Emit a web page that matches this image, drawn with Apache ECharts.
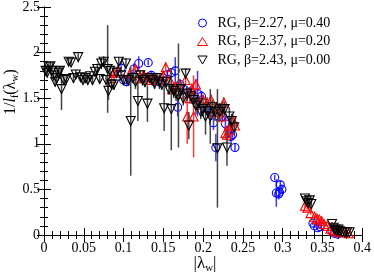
<!DOCTYPE html>
<html><head><meta charset="utf-8">
<script src="https://cdn.jsdelivr.net/npm/echarts@6/dist/echarts.min.js"></script>
<style>html,body{margin:0;padding:0;background:#fff}#c{width:374px;height:273px}</style>
</head><body><div id="c"></div>
<script>
// ---- data ----
const xTicks = [0,0.05,0.1,0.15,0.2,0.25,0.3,0.35,0.4];
const yTicks = [0,0.5,1,1.5,2,2.5];
const seriesNames = ['RG, β=2.27, μ=0.40','RG, β=2.37, μ=0.20','RG, β=2.43, μ=0.00'];

const blueX = [0.097,0.100,0.104,0.108,0.113,0.119,0.124,0.131,0.135,0.140,0.145,0.150,0.155,0.160,0.165,0.168,0.171,0.175,0.180,0.184,0.188,0.193,0.198,0.203,0.208,0.213,0.216,0.220,0.224,0.228,0.232,0.235,0.237,0.240,
  0.290,0.292,0.295,0.297,0.299,0.296,0.338,0.340,0.344,0.347,0.362,0.365,0.369];
const blueY = [1.83,1.70,1.68,1.72,1.82,1.88,1.72,1.89,1.75,1.70,1.68,1.72,1.76,1.78,1.80,1.40,1.65,1.60,1.55,1.57,1.50,1.55,1.52,1.40,1.35,1.23,0.96,1.30,1.30,1.22,1.15,1.08,1.10,0.96,
  0.63,0.46,0.45,0.55,0.50,0.47,0.13,0.10,0.08,0.09,0.04,0.02,0.01];
const blueErr = [0.08,0.05,0.05,0.05,0.06,0.08,0.05,0.03,0.05,0.05,0.05,0.05,0.05,0.05,0.15,0.10,0.06,0.05,0.08,0.06,0.05,0.25,0.06,0.06,0.06,0.08,0.15,0.06,0.06,0.08,0.08,0.06,0.06,0.04,
  0.03,0.15,0.06,0.05,0.05,0.05,0.02,0.02,0.02,0.02,0.01,0.01,0.01];

const redX = [0.085,0.088,0.093,0.108,0.115,0.120,0.125,0.130,0.135,0.140,0.145,0.150,0.153,0.158,0.161,0.165,0.170,0.175,0.178,0.180,0.183,0.186,0.188,0.191,0.195,0.200,0.205,0.210,0.214,0.218,0.221,0.223,0.226,0.228,0.230,0.233,0.235,0.238,0.240,
  0.328,0.331,0.335,0.340,0.343,0.346,0.349,0.352,0.356,0.360,0.364,0.368,0.373,0.378,0.383];
const redY = [1.72,1.78,1.80,1.77,1.82,1.72,1.75,1.73,1.70,1.72,1.70,1.75,1.84,1.70,1.60,1.62,1.65,1.55,1.70,1.30,1.50,1.60,1.30,1.65,1.45,1.48,1.45,1.48,1.35,1.40,1.38,1.30,1.45,1.12,1.10,1.15,1.20,1.25,1.20,
  0.32,0.30,0.24,0.20,0.18,0.17,0.15,0.12,0.10,0.07,0.05,0.04,0.03,0.03,0.02];
const redErr = [0.05,0.05,0.05,0.05,0.05,0.05,0.05,0.05,0.05,0.05,0.05,0.05,0.04,0.05,0.06,0.06,0.06,0.06,0.06,0.30,0.06,0.06,0.45,0.06,0.08,0.06,0.06,0.06,0.08,0.06,0.06,0.08,0.06,0.08,0.08,0.06,0.06,0.06,0.06,
  0.02,0.02,0.02,0.02,0.02,0.02,0.02,0.02,0.01,0.01,0.01,0.01,0.01,0.01,0.01];

const blackX = [0.002,0.004,0.006,0.008,0.010,0.012,0.014,0.016,0.018,0.020,0.022,0.025,0.028,0.031,0.034,0.037,0.040,0.043,0.046,0.049,0.052,0.055,0.058,0.061,0.064,0.067,0.070,0.072,0.075,0.078,0.080,0.081,0.083,0.085,0.088,0.091,0.094,0.097,0.100,0.103,0.106,0.109,0.112,0.115,0.118,0.121,0.124,0.127,0.130,0.133,0.136,0.139,0.142,0.145,0.148,0.151,0.154,0.157,0.160,0.163,0.166,0.169,0.172,0.175,0.178,0.180,0.182,0.185,0.188,0.191,0.194,0.197,0.200,0.203,0.206,0.209,0.212,0.215,0.218,0.221,0.224,0.227,0.230,0.233,0.236,0.239,
  0.328,0.330,0.332,0.334,0.336,0.362,0.364,0.366,0.368,0.370,0.372,0.375,0.378,0.381,0.384];
const blackY = [1.80,1.78,1.84,1.85,1.80,1.75,1.68,1.72,1.78,1.80,1.60,1.70,1.71,1.90,1.89,1.72,1.76,1.95,1.73,1.70,1.72,1.70,1.74,1.70,1.79,1.82,1.71,1.88,1.90,1.70,1.82,1.58,1.80,1.65,1.65,1.78,1.90,1.75,1.70,1.88,1.70,1.25,1.72,1.68,1.47,1.75,1.70,1.68,1.44,1.72,1.70,1.66,1.72,1.68,1.65,1.39,1.68,1.60,1.38,1.58,1.55,1.53,1.60,1.50,1.77,1.55,1.20,1.52,1.48,1.42,1.45,1.35,1.38,1.30,1.36,1.30,1.40,1.35,0.95,1.35,1.38,1.38,0.96,1.30,1.25,1.18,
  0.40,0.37,0.35,0.38,0.34,0.12,0.08,0.06,0.05,0.06,0.04,0.03,0.03,0.03,0.03];
const blackErr = [0.04,0.04,0.04,0.04,0.04,0.05,0.05,0.05,0.05,0.05,0.23,0.05,0.05,0.04,0.04,0.05,0.05,0.04,0.05,0.05,0.05,0.05,0.05,0.05,0.05,0.06,0.05,0.06,0.06,0.05,0.48,0.10,0.06,0.06,0.06,0.06,0.05,0.06,0.06,0.06,0.06,0.60,0.06,0.08,0.22,0.06,0.06,0.06,0.20,0.06,0.06,0.06,0.06,0.08,0.06,0.25,0.06,0.06,0.45,0.08,0.08,0.57,0.08,0.08,0.06,0.08,0.15,0.08,0.08,0.10,0.08,0.08,0.08,0.20,0.08,0.30,0.08,0.10,0.65,0.10,0.08,0.08,0.20,0.10,0.08,0.08,
  0.04,0.03,0.03,0.03,0.03,0.02,0.02,0.02,0.02,0.02,0.01,0.01,0.01,0.01,0.01];

// ---- chart ----
const colors = ['#0000ff','#ff0000','#000000'];
const barColors = ['#3b3bff','#ff3b3b','#444444'];
const symbols = ['circle','triangle','path://M0,0L10,0L5,8.66Z'];
const sizes = [8,9,9];
const sets = [[blueX,blueY,blueErr],[redX,redY,redErr],[blackX,blackY,blackErr]];
const font = 'Liberation Serif, Times New Roman, serif';

function zip(a,b,c){return a.map((v,i)=>c?[v,b[i],c[i]]:[v,b[i]]);}

const series = [];
sets.forEach((s,i)=>{
  series.push({
    type:'custom', name:seriesNames[i], data:zip(s[0],s[1],s[2]), z:2+i*2,
    renderItem:(params,api)=>{
      const x=api.value(0), y=api.value(1), e=api.value(2);
      const p1=api.coord([x,y+e]), p2=api.coord([x,y-e]);
      return {type:'line', shape:{x1:p1[0],y1:p1[1],x2:p2[0],y2:p2[1]},
        style:{stroke:barColors[i], lineWidth:1.5}};
    },
    clip:true, silent:true, legendHoverLink:false, tooltip:{show:false}
  });
  series.push({
    type:'scatter', name:seriesNames[i], data:zip(s[0],s[1]), z:3+i*2,
    symbol:symbols[i], symbolSize:sizes[i],
    itemStyle:{color:'rgba(0,0,0,0)', borderColor:colors[i], borderWidth:1.1, opacity:1},
    clip:true
  });
});

const axisCommon = {
  min:0, axisLine:{show:true, lineStyle:{color:'#000', width:1}},
  axisTick:{show:true, inside:true, length:7, lineStyle:{color:'#000'}},
  minorTick:{show:true, splitNumber:5, length:4, lineStyle:{color:'#000'}},
  splitLine:{show:false}
};

const chart = echarts.init(document.getElementById('c'), null, {renderer:'canvas'});
chart.setOption({
  animation:false,
  backgroundColor:'#fff',
  grid:{left:44, right:8, top:6, bottom:38},
  legend:{
    orient:'vertical', left:192, top:11, itemGap:4.5, itemWidth:10, itemHeight:8,
    data:seriesNames.map((n,i)=>({name:n, icon:symbols[i],
      itemStyle:{color:'rgba(0,0,0,0)', borderColor:colors[i], borderWidth:1}})),
    textStyle:{fontFamily:font, fontSize:14, color:'#000', lineHeight:14, padding:[0,0,0,5]},
    selectedMode:false
  },
  graphic:[
    {type:'text', x:205, y:264, z:10, silent:true,
      style:{text:'{a||λ}{s|w}{a||}', align:'center', verticalAlign:'middle',
        rich:{a:{fontFamily:font,fontSize:17,fill:'#000'},s:{fontFamily:font,fontSize:11,fill:'#000',padding:[8,0,0,0]}}}},
    {type:'text', x:11, y:92, rotation:Math.PI/2, z:10, silent:true,
      style:{text:'{a|1/}{i|l}{s|f}{a|(λ}{s|w}{a|)}', align:'center', verticalAlign:'middle',
        rich:{a:{fontFamily:font,fontSize:16,fill:'#000'},i:{fontFamily:font,fontSize:16,fontStyle:'italic',fill:'#000'},s:{fontFamily:font,fontSize:10,fill:'#000',padding:[8,0,0,0]}}}}
  ],
  xAxis:[
    Object.assign({}, axisCommon, {type:'value', max:0.4, interval:0.05, position:'bottom',
      axisLabel:{fontFamily:font, fontSize:14, color:'#000', margin:6,
        formatter:v=>{const t=xTicks.find(k=>Math.abs(k-v)<1e-9); return t===undefined?'':String(t);}}
    }),
    Object.assign({}, axisCommon, {type:'value', max:0.4, interval:0.05, position:'top', axisLabel:{show:false}})
  ],
  yAxis:[
    Object.assign({}, axisCommon, {type:'value', max:2.5, interval:0.5, position:'left',
      axisLabel:{fontFamily:font, fontSize:14, color:'#000', margin:4,
        formatter:v=>{const t=yTicks.find(k=>Math.abs(k-v)<1e-9); return t===undefined?'':String(t);}}
    }),
    Object.assign({}, axisCommon, {type:'value', max:2.5, interval:0.5, position:'right', axisLabel:{show:false}})
  ],
  series:series
});
</script></body></html>
